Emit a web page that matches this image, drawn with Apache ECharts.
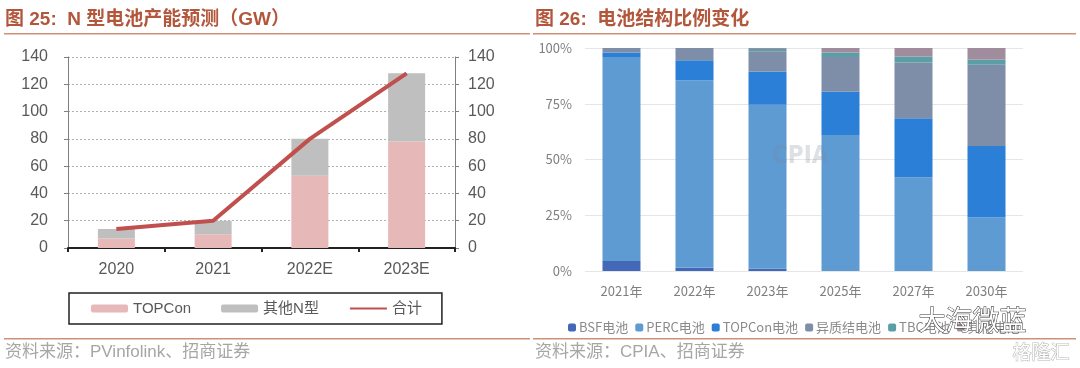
<!DOCTYPE html>
<html>
<head>
<meta charset="utf-8">
<script src="https://cdn.jsdelivr.net/npm/echarts@6/dist/echarts.min.js"></script>
<style>
html,body{margin:0;padding:0;background:#fff;}
#c{width:1080px;height:368px;}
</style>
</head>
<body>
<div id="c"></div>
<script>
// ---- Left chart data (GW) ----
const leftCategories = ['2020', '2021', '2022E', '2023E'];
const topconGW = [7, 10, 53, 78];
const otherNGW = [7, 10, 27, 50];
const totalGW = [14, 20, 80, 128];
const leftTicks = [0, 20, 40, 60, 80, 100, 120, 140];

// ---- Right chart data (%) ----
const rightCategories = ['2021年', '2022年', '2023年', '2025年', '2027年', '2030年'];
const bsfShare = [4.5, 1.5, 1, 0, 0, 0];
const percShare = [91.5, 84, 73.5, 61, 42, 24];
const topconShare = [2, 9, 15, 19.5, 26.5, 32];
const hjtShare = [2, 5.5, 9, 15.5, 25, 36.5];
const tbcShare = [0, 0, 1, 2, 2.7, 2.3];
const otherShare = [0, 0, 0.5, 2, 3.8, 5.2];

const cjk = '"Liberation Sans", "Noto Sans CJK SC", sans-serif';
const cjk2 = '"Noto Sans CJK SC", "Liberation Sans", sans-serif';
const titleColor = '#b3573c';
const ruleColor = '#cf8f78';

const chart = echarts.init(document.getElementById('c'), null, {renderer: 'canvas'});

const option = {
  backgroundColor: '#fff',
  animation: false,
  grid: [
    {left: 68, right: 625, top: 57, bottom: 120},
    {left: 585, right: 57, top: 48, bottom: 97}
  ],
  legend: [
    {
      left: 69, top: 293, width: 378, height: 34,
      padding: [8, 20, 8, 22],
      borderColor: '#222', borderWidth: 1.5,
      itemWidth: 37, itemHeight: 8, itemGap: 30,
      textStyle: {fontFamily: cjk, fontSize: 15, color: '#595959'},
      data: ['TOPCon', '其他N型', {name: '合计', itemStyle: {opacity: 0}}]
    },
    {
      left: 563, top: 316,
      itemWidth: 8, itemHeight: 8, itemGap: 7,
      textStyle: {fontFamily: cjk2, fontSize: 13, color: '#8a8a8a', padding: [0, 0, 0, -2]},
      data: ['BSF电池', 'PERC电池', 'TOPCon电池', '异质结电池', 'TBC电池', '其他电池']
    }
  ],
  xAxis: [
    {
      type: 'category', gridIndex: 0, data: leftCategories,
      axisLine: {lineStyle: {color: '#222', width: 2}},
      axisTick: {show: true, length: 4, lineStyle: {color: '#222', width: 2}},
      axisLabel: {fontFamily: cjk, fontSize: 16, color: '#595959', margin: 14}
    },
    {
      type: 'category', gridIndex: 1, data: rightCategories,
      axisLine: {show: false}, axisTick: {show: false},
      axisLabel: {fontFamily: cjk2, fontSize: 13, color: '#7f7f7f', margin: 14}
    }
  ],
  yAxis: [
    {
      type: 'value', gridIndex: 0, min: 0, max: 140, interval: 20, position: 'left',
      axisLine: {show: true, lineStyle: {color: '#7f7f7f'}},
      axisTick: {show: true, length: 4, lineStyle: {color: '#7f7f7f'}},
      axisLabel: {fontFamily: cjk, fontSize: 16, color: '#595959', margin: 20,
        formatter: v => leftTicks.includes(v) ? String(v) : ''},
      splitLine: {show: true, lineStyle: {color: '#b0b0b0', type: [2, 2]}}
    },
    {
      type: 'value', gridIndex: 0, min: 0, max: 140, interval: 20, position: 'right',
      axisLine: {show: true, lineStyle: {color: '#7f7f7f'}},
      axisTick: {show: true, length: 4, lineStyle: {color: '#7f7f7f'}},
      axisLabel: {fontFamily: cjk, fontSize: 16, color: '#595959', margin: 13},
      splitLine: {show: false}
    },
    {
      type: 'value', gridIndex: 1, min: 0, max: 100, interval: 25,
      axisLine: {show: false}, axisTick: {show: false},
      axisLabel: {fontFamily: cjk2, fontSize: 13, color: '#7f7f7f', margin: 13,
        formatter: v => v + '%'},
      splitLine: {show: true, lineStyle: {color: '#e6e6e6'}}
    }
  ],
  series: [
    {name: 'TOPCon', type: 'bar', stack: 'L', xAxisIndex: 0, yAxisIndex: 0, barWidth: 37,
      itemStyle: {color: '#e6b9b8'}, data: topconGW},
    {name: '其他N型', type: 'bar', stack: 'L', xAxisIndex: 0, yAxisIndex: 0, barWidth: 37,
      itemStyle: {color: '#bfbfbf'}, data: otherNGW},
    {name: '合计', type: 'line', xAxisIndex: 0, yAxisIndex: 0, symbol: 'none',
      lineStyle: {color: '#c0504d', width: 4}, itemStyle: {color: '#c0504d'}, data: totalGW, z: 5},

    {name: 'BSF电池', type: 'bar', stack: 'R', xAxisIndex: 1, yAxisIndex: 2, barWidth: 38,
      itemStyle: {color: '#4468b8'}, data: bsfShare},
    {name: 'PERC电池', type: 'bar', stack: 'R', xAxisIndex: 1, yAxisIndex: 2, barWidth: 38,
      itemStyle: {color: '#5e9bd3'}, data: percShare},
    {name: 'TOPCon电池', type: 'bar', stack: 'R', xAxisIndex: 1, yAxisIndex: 2, barWidth: 38,
      itemStyle: {color: '#2b7fd7'}, data: topconShare},
    {name: '异质结电池', type: 'bar', stack: 'R', xAxisIndex: 1, yAxisIndex: 2, barWidth: 38,
      itemStyle: {color: '#7f8ea8'}, data: hjtShare},
    {name: 'TBC电池', type: 'bar', stack: 'R', xAxisIndex: 1, yAxisIndex: 2, barWidth: 38,
      itemStyle: {color: '#5c9ea6'}, data: tbcShare},
    {name: '其他电池', type: 'bar', stack: 'R', xAxisIndex: 1, yAxisIndex: 2, barWidth: 38,
      itemStyle: {color: '#a08c9c'}, data: otherShare}
  ],
  graphic: [
    {type: 'text', left: 5, top: 10, style: {text: '图 25:  N 型电池产能预测（GW）', fontFamily: cjk,
      fontSize: 19, fontWeight: 'bold', fill: titleColor}},
    {type: 'rect', shape: {x: 4, y: 33, width: 526, height: 1.5}, style: {fill: ruleColor}},
    {type: 'rect', shape: {x: 4, y: 338, width: 526, height: 1.5}, style: {fill: ruleColor}},
    {type: 'text', left: 5, top: 344, style: {text: '资料来源：PVinfolink、招商证券', fontFamily: cjk,
      fontSize: 17, fill: '#a6a6a6'}},

    {type: 'text', left: 535, top: 10, style: {text: '图 26:  电池结构比例变化', fontFamily: cjk,
      fontSize: 19, fontWeight: 'bold', fill: titleColor}},
    {type: 'rect', shape: {x: 533, y: 33, width: 543, height: 1.5}, style: {fill: ruleColor}},
    {type: 'rect', shape: {x: 533, y: 338, width: 543, height: 1.5}, style: {fill: ruleColor}},
    {type: 'text', left: 535, top: 344, style: {text: '资料来源：CPIA、招商证券', fontFamily: cjk,
      fontSize: 17, fill: '#a6a6a6'}},

    {type: 'text', left: 772, top: 145, z: 100, style: {text: 'CPIA', fontFamily: '"DejaVu Sans Condensed", sans-serif',
      fontSize: 24, fontWeight: 'bold', fill: 'rgba(120,130,150,0.25)'}},
    {type: 'text', left: 918, top: 306, z: 100, style: {text: '大海微蓝', fontFamily: cjk2,
      fontSize: 27, fill: '#ffffff', stroke: '#333', lineWidth: 1}},
    {type: 'text', left: 1012, top: 342, z: 100, style: {text: '格隆汇', fontFamily: cjk2,
      fontSize: 19, fill: '#ffffff', stroke: '#b5b5b5', lineWidth: 1}}
  ]
};
chart.setOption(option);
</script>
</body>
</html>
